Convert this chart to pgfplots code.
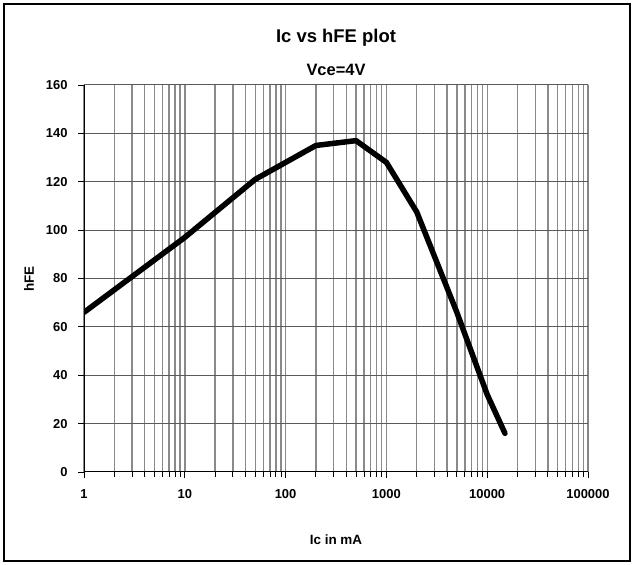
\documentclass[border=0pt]{standalone}
\usepackage{fontspec}
\setmainfont{Liberation Sans}
\usepackage{pgfplots}
\pgfplotsset{compat=1.18}

\definecolor{vgrid}{HTML}{8A8A8A}
\definecolor{hgrid}{HTML}{5A5A5A}

\begin{document}
\begin{tikzpicture}
\useasboundingbox (-84bp,-93bp) rectangle (550bp,472bp);
\draw[line width=1.8bp] (-80bp,-89bp) rectangle (546bp,468bp);
\begin{axis}[
  at={(0,0)}, anchor=origin,
  scale only axis,
  width=504bp, height=387bp,
  xmode=log,
  xmin=1, xmax=100000,
  ymin=0, ymax=160,
  xtick={1,10,100,1000,10000,100000},
  xticklabels={1,10,100,1000,10000,100000},
  ytick={0,20,...,160},
  yticklabels={0,20,40,60,80,100,120,140,160},
  tick align=outside,
  major tick length=6bp,
  minor tick length=5bp,
  tick style={black, line width=0.9bp},
  xmajorgrids, xminorgrids, ymajorgrids,
  x grid style={vgrid, line width=1.4bp},
  minor x grid style={vgrid, line width=1.4bp},
  y grid style={hgrid, line width=1bp},
  axis line style={black, line width=1bp},
  axis x line*=bottom, axis y line*=left,
  every x tick label/.style={font=\bfseries\fontsize{13}{15}\selectfont, yshift=-8bp},
  every y tick label/.style={font=\bfseries\fontsize{13}{15}\selectfont, xshift=-7bp},
]
\draw[hgrid, line width=1bp] (axis cs:1,160) -- (axis cs:100000,160) -- (axis cs:100000,0);
\addplot[black, line width=5.5bp, line join=round, line cap=round] coordinates {
  (1,66) (10,97) (50,121) (100,128) (200,135) (500,137)
  (1000,128) (2000,107.5) (5000,66) (10000,32) (15000,16)
};
\end{axis}
\node[font=\bfseries\fontsize{18.5}{20}\selectfont] at (252bp,434bp) {Ic vs hFE plot};
\node[font=\bfseries\fontsize{16.5}{18}\selectfont] at (252bp,402bp) {Vce=4V};
\node[font=\bfseries\fontsize{13.5}{15}\selectfont, rotate=90] at (-55bp,193bp) {hFE};
\node[font=\bfseries\fontsize{13.5}{15}\selectfont] at (252bp,-68bp) {Ic in mA};
\end{tikzpicture}
\end{document}
